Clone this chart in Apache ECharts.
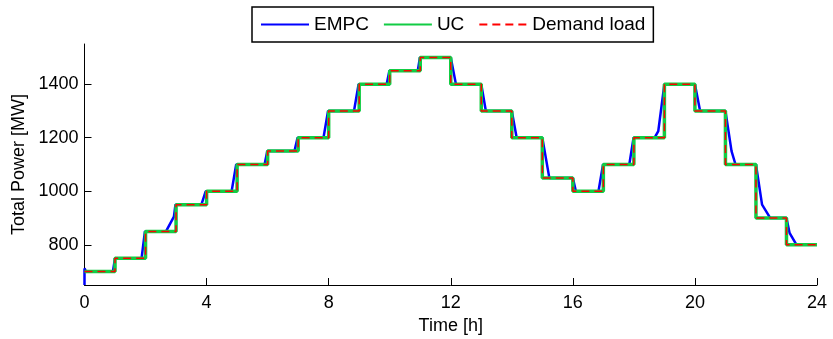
<!DOCTYPE html>
<html>
<head>
<meta charset="utf-8">
<script src="https://cdn.jsdelivr.net/npm/echarts@6/dist/echarts.min.js"></script>
<style>
html, body { margin: 0; padding: 0; background: #fff; }
#main { width: 833px; height: 339px; }
</style>
</head>
<body>
<div id="main"></div>
<script>
// hourly demand (value held over [h, h+1))
var hours = [0,1,2,3,4,5,6,7,8,9,10,11,12,13,14,15,16,17,18,19,20,21,22,23,24];
var demand = [700,750,850,950,1000,1100,1150,1200,1300,1400,1450,1500,1400,1300,1200,1050,1000,1100,1200,1400,1300,1100,900,800,800];
var uc = [700,750,850,950,1000,1100,1150,1200,1300,1400,1450,1500,1400,1300,1200,1050,1000,1100,1200,1400,1300,1100,900,800,800];

// EMPC trajectory (time, power)
var empcT = [0,0,0.05,0.93,1,1.87,1.98,2.67,2.93,2.98,3.83,3.97,4.82,4.97,5.9,5.99,6.88,6.98,7.83,7.98,8.83,8.98,9.9,9.99,10.92,10.99,
  12,12.17,13,13.15,14,14.16,15,15.23,16,16.1,16.84,16.99,17.85,17.99,18.68,18.8,19,20,20.17,21,21.2,21.33,22,22.2,22.47,23,23.1,23.33,24];
var empcV = [650,712,700,700,750,750,850,850,905,950,950,1000,1000,1100,1100,1150,1150,1200,1200,1300,1300,1400,1400,1450,1450,1500,
  1500,1400,1400,1300,1300,1200,1200,1050,1050,1000,1000,1100,1100,1200,1200,1225,1400,1400,1300,1300,1150,1100,1100,950,900,900,845,800,800];

var yTicks = [800, 1000, 1200, 1400];

function pairs(xs, ys) {
    return xs.map(function (x, i) { return [x, ys[i]]; });
}

var font = 'Liberation Sans, Arial, sans-serif';
var myChart = echarts.init(document.getElementById('main'));
var option = {
    animation: false,
    textStyle: { fontFamily: font, color: '#000' },
    grid: { left: 84.5, right: 16, top: 44, bottom: 54, outerBoundsMode: 'none', containLabel: false },
    legend: {
        left: 252,
        top: 7,
        padding: [8, 8, 8, 8],
        itemWidth: 48,
        itemHeight: 17,
        itemGap: 14,
        borderColor: '#000',
        borderWidth: 1.5,
        backgroundColor: '#fff',
        itemStyle: { opacity: 0 },
        textStyle: { fontSize: 19, color: '#000', fontFamily: font },
        data: ['EMPC', 'UC', 'Demand load']
    },
    xAxis: {
        type: 'value',
        min: 0,
        max: 24,
        interval: 4,
        name: 'Time [h]',
        nameLocation: 'middle',
        nameGap: 30,
        nameTextStyle: { fontSize: 18, color: '#000' },
        splitLine: { show: false },
        axisLine: { onZero: false, lineStyle: { color: '#000', width: 1 } },
        axisTick: { inside: true, length: 7, lineStyle: { color: '#000' } },
        axisLabel: { fontSize: 18, color: '#000', margin: 9 }
    },
    yAxis: {
        type: 'value',
        min: 650,
        max: 1550,
        name: 'Total Power [MW]',
        nameLocation: 'middle',
        nameGap: 53,
        nameTextStyle: { fontSize: 18, color: '#000' },
        splitLine: { show: false },
        axisLine: { show: true, lineStyle: { color: '#000', width: 1 } },
        axisTick: { show: true, inside: true, length: 7, customValues: yTicks, lineStyle: { color: '#000' } },
        axisLabel: {
            fontSize: 18, color: '#000', margin: 6, customValues: yTicks,
            formatter: function (v) { return String(v); }
        }
    },
    series: [
        {
            name: 'EMPC',
            type: 'line',
            data: pairs(empcT, empcV),
            showSymbol: false,
            symbol: 'none',
            lineStyle: { color: '#0000ff', width: 2.5 },
            itemStyle: { color: '#0000ff' },
            z: 2
        },
        {
            name: 'UC',
            type: 'line',
            step: 'end',
            data: pairs(hours, uc),
            showSymbol: false,
            symbol: 'none',
            lineStyle: { color: '#12cc44', width: 3.5 },
            itemStyle: { color: '#12cc44' },
            z: 3
        },
        {
            name: 'Demand load',
            type: 'line',
            step: 'end',
            data: pairs(hours, demand),
            showSymbol: false,
            symbol: 'none',
            lineStyle: { color: '#ff0000', width: 1.5, type: [8, 5] },
            itemStyle: { color: '#ff0000' },
            z: 4
        }
    ]
};
myChart.setOption(option);
window.addEventListener('resize', function () {
    myChart.resize();
});
</script>
</body>
</html>
